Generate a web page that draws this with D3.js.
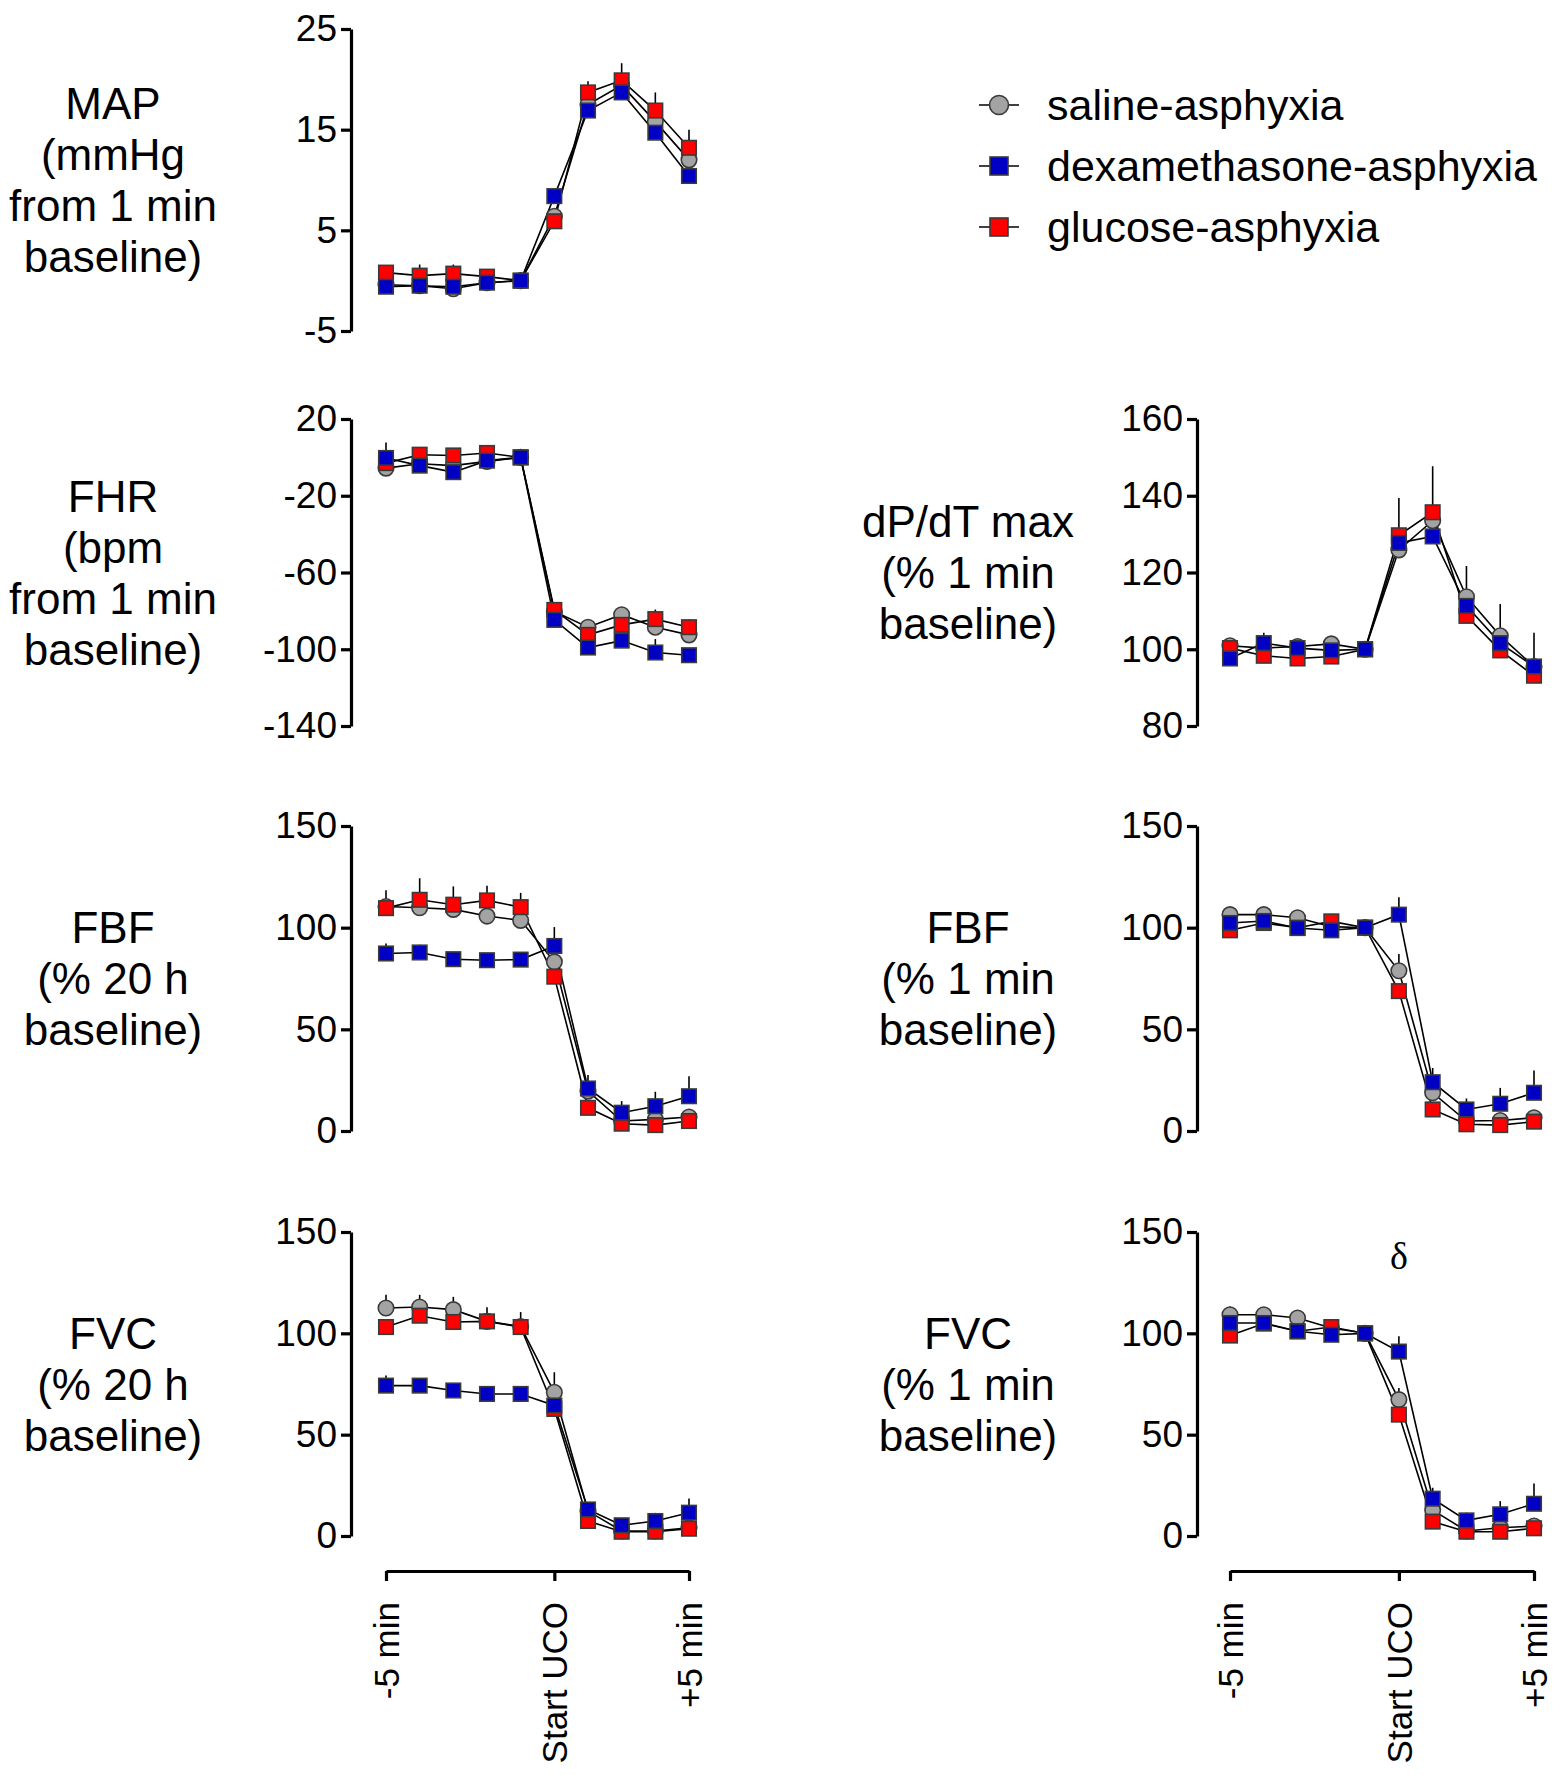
<!DOCTYPE html>
<html>
<head>
<meta charset="utf-8">
<script src="https://cdn.jsdelivr.net/npm/d3@7"></script>
<style>
  body { margin: 0; background: #fff; }
  svg text { font-family: "Liberation Sans", Arial, sans-serif; fill: #000; }
</style>
</head>
<body>
<svg id="chart" width="1567" height="1775"></svg>
<script>
// time points (10 samples, -5 min ... +5 min)
const timeIdx = [0, 1, 2, 3, 4, 5, 6, 7, 8, 9];
const xTickPos = [0, 5, 9];
const xTickLabels = ["-5 min", "Start UCO", "+5 min"];

const seriesNames = ["saline-asphyxia", "dexamethasone-asphyxia", "glucose-asphyxia"];

// MAP (mmHg from 1 min baseline)
const mapSaline   = [-0.4, -0.5, -0.8, -0.2, 0, 6.4, 17.5, 19.4, 15.8, 12.0];
const mapDex      = [-0.6, -0.5, -0.6, -0.2, 0, 8.4, 16.9, 18.7, 14.7, 10.4];
const mapGlucose  = [0.8, 0.5, 0.7, 0.4, 0, 5.9, 18.7, 19.9, 16.9, 13.2];
const mapSalineErr  = [0.3, 0.3, 0.3, 0.3, 0, 0.6, 0.6, 1.2, 1.0, 3.0];
const mapDexErr     = [0.2, 0.3, 0.2, 0.2, 0, 0.4, 0.5, 0.6, 0.6, 0.4];
const mapGlucoseErr = [0.6, 1.1, 0.9, 0.3, 0, 1.2, 1.1, 1.7, 1.8, 0.8];

// FHR (bpm from 1 min baseline)
const fhrSaline   = [-5.6, -3.3, -4.3, -2.1, 0, -80.3, -88.5, -82.0, -88.5, -92.5];
const fhrDex      = [-0.3, -4.3, -7.7, -1.7, 0, -84.7, -99.1, -95.5, -101.7, -103.1];
const fhrGlucose  = [-3.0, 1.4, 1.0, 2.3, 0, -79.5, -92.5, -87.3, -84.3, -88.5];
const fhrSalineErr  = [3, 3, 4, 3, 0, 3, 4, 3, 3, 4];
const fhrDexErr     = [8, 2, 2, 2, 0, 2, 2, 2, 7, 2];
const fhrGlucoseErr = [3, 2, 2, 2, 0, 4, 3, 3, 5, 4];

// dP/dT max (% 1 min baseline)
const dpSaline   = [100.9, 100.3, 100.7, 101.4, 100, 125.9, 133.5, 113.7, 103.5, 95.5];
const dpDex      = [97.6, 101.6, 100.3, 99.7, 100, 127.7, 129.4, 111.3, 101.6, 95.5];
const dpGlucose  = [100.3, 98.3, 97.6, 98.1, 100, 129.7, 135.7, 108.7, 99.7, 93.1];
const dpSalineErr  = [0.8, 0.8, 0.8, 1.3, 0, 2, 2, 8, 8.3, 1];
const dpDexErr     = [1, 2.7, 0.8, 0.8, 0, 2, 2, 2, 2, 8.8];
const dpGlucoseErr = [0.8, 0.8, 0.8, 0.8, 0, 9.7, 12, 2, 2, 1];

// FBF (% 20 h baseline)
const fbf20Saline   = [110.4, 109.8, 109.0, 105.7, 103.6, 83.2, 19.6, 4.9, 5.7, 6.9];
const fbf20Dex      = [87.3, 87.8, 84.5, 84.0, 84.3, 91.0, 20.9, 9.0, 12.2, 17.1];
const fbf20Glucose  = [109.6, 113.7, 111.3, 113.4, 110.1, 75.9, 11.4, 3.6, 2.9, 4.9];
const fbf20SalineErr  = [8, 4, 4, 3, 3, 4, 3, 1, 1, 1];
const fbf20DexErr     = [4.9, 3.8, 3.5, 1.5, 1.5, 9.3, 6.7, 5.7, 7.1, 9.8];
const fbf20GlucoseErr = [5, 10.6, 9, 7.2, 7, 3, 2, 1, 1, 1];

// FBF (% 1 min baseline)
const fbf1Saline   = [106.4, 106.4, 104.9, 100.5, 100, 78.8, 18.8, 4.9, 5.2, 6.5];
const fbf1Dex      = [102.3, 103.3, 99.8, 98.7, 100, 106.4, 24.0, 10.6, 13.4, 18.8];
const fbf1Glucose  = [98.7, 102.3, 100.0, 103.1, 100, 68.8, 10.6, 3.3, 2.9, 4.6];
const fbf1SalineErr  = [1.5, 1, 1, 1, 0, 8.2, 2, 1, 1, 1];
const fbf1DexErr     = [2, 2, 1, 1, 0, 8.6, 7, 5.4, 7.8, 11];
const fbf1GlucoseErr = [1, 1, 1, 1, 0, 2, 2, 1, 1, 1];

// FVC (% 20 h baseline)
const fvc20Saline   = [112.5, 113.0, 111.7, 105.9, 103.4, 70.9, 12.3, 2.5, 2.5, 4.1];
const fvc20Dex      = [74.2, 74.2, 71.8, 70.1, 70.1, 64.4, 13.1, 5.3, 7.4, 11.5];
const fvc20Glucose  = [103.1, 108.7, 105.6, 105.9, 103.1, 62.7, 7.4, 2.1, 2.1, 3.6];
const fvc20SalineErr  = [6.5, 6, 6.3, 3, 3, 9.9, 2, 1, 1, 1];
const fvc20DexErr     = [5, 3, 2, 1, 1, 2, 3, 2, 4, 7];
const fvc20GlucoseErr = [3, 3, 3, 7, 7.4, 3, 2, 1, 1, 1];

// FVC (% 1 min baseline)
const fvc1Saline   = [109.2, 109.2, 107.6, 102.6, 100, 67.3, 12.8, 2.5, 4.1, 4.9];
const fvc1Dex      = [105.1, 105.1, 101.0, 99.3, 100, 91.0, 18.4, 7.7, 10.7, 15.9];
const fvc1Glucose  = [98.9, 104.8, 101.0, 103.1, 100, 59.9, 7.1, 2.1, 2.1, 3.8];
const fvc1SalineErr  = [4, 3, 1, 1, 0, 5.7, 2, 1, 1, 1];
const fvc1DexErr     = [1.5, 1.5, 1, 1, 0, 7.5, 5.4, 3.8, 6.5, 10];
const fvc1GlucoseErr = [1, 1, 1, 1, 0, 2, 2, 1, 1, 1];

// styles
const seriesStyle = {
  "saline-asphyxia":        { shape: "circle", fill: "#a3a3a3" },
  "dexamethasone-asphyxia": { shape: "square", fill: "#0000c4" },
  "glucose-asphyxia":       { shape: "square", fill: "#ff0000" }
};
const drawOrder = ["saline-asphyxia", "glucose-asphyxia", "dexamethasone-asphyxia"];

const cols = [
  { axisX: 351, x0: 386, x1: 689, labelX: 113 },
  { axisX: 1197, x0: 1230, x1: 1534, labelX: 968 }
];

const panels = [
  { col: 0, top: 29, bottom: 331, domain: [-5, 25], ticks: [-5, 5, 15, 25],
    label: ["MAP", "(mmHg", "from 1 min", "baseline)"],
    vals: [mapSaline, mapDex, mapGlucose], errs: [mapSalineErr, mapDexErr, mapGlucoseErr] },
  { col: 0, top: 419, bottom: 726, domain: [-140, 20], ticks: [-140, -100, -60, -20, 20],
    label: ["FHR", "(bpm", "from 1 min", "baseline)"],
    vals: [fhrSaline, fhrDex, fhrGlucose], errs: [fhrSalineErr, fhrDexErr, fhrGlucoseErr] },
  { col: 1, top: 419, bottom: 726, domain: [80, 160], ticks: [80, 100, 120, 140, 160],
    label: ["dP/dT max", "(% 1 min", "baseline)"],
    vals: [dpSaline, dpDex, dpGlucose], errs: [dpSalineErr, dpDexErr, dpGlucoseErr] },
  { col: 0, top: 826, bottom: 1131, domain: [0, 150], ticks: [0, 50, 100, 150],
    label: ["FBF", "(% 20 h", "baseline)"],
    vals: [fbf20Saline, fbf20Dex, fbf20Glucose], errs: [fbf20SalineErr, fbf20DexErr, fbf20GlucoseErr] },
  { col: 1, top: 826, bottom: 1131, domain: [0, 150], ticks: [0, 50, 100, 150],
    label: ["FBF", "(% 1 min", "baseline)"],
    vals: [fbf1Saline, fbf1Dex, fbf1Glucose], errs: [fbf1SalineErr, fbf1DexErr, fbf1GlucoseErr] },
  { col: 0, top: 1232, bottom: 1536, domain: [0, 150], ticks: [0, 50, 100, 150],
    label: ["FVC", "(% 20 h", "baseline)"],
    vals: [fvc20Saline, fvc20Dex, fvc20Glucose], errs: [fvc20SalineErr, fvc20DexErr, fvc20GlucoseErr],
    xAxis: true },
  { col: 1, top: 1232, bottom: 1536, domain: [0, 150], ticks: [0, 50, 100, 150],
    label: ["FVC", "(% 1 min", "baseline)"],
    vals: [fvc1Saline, fvc1Dex, fvc1Glucose], errs: [fvc1SalineErr, fvc1DexErr, fvc1GlucoseErr],
    xAxis: true, mark: { idx: 5, value: 131.5, text: "\u03b4" } }
];

const svg = d3.select("#chart");
const xAxisY = 1571;

function drawMarker(g, shape, fill, cx, cy, size) {
  if (shape === "circle") {
    g.append("circle").attr("cx", cx).attr("cy", cy).attr("r", size / 2 + 0.5)
      .attr("fill", fill).attr("stroke", "#3a3a3a").attr("stroke-width", 1.6);
  } else {
    g.append("rect").attr("x", cx - size / 2).attr("y", cy - size / 2)
      .attr("width", size).attr("height", size)
      .attr("fill", fill).attr("stroke", "#3a3a3a").attr("stroke-width", 1.6);
  }
}

panels.forEach(p => {
  const c = cols[p.col];
  const x = d3.scaleLinear().domain([0, 9]).range([c.x0, c.x1]);
  const y = d3.scaleLinear().domain(p.domain).range([p.bottom, p.top]);
  const g = svg.append("g");

  // y axis (plain hyphen minus like the original)
  const yAxis = d3.axisLeft(y).tickValues(p.ticks).tickFormat(d => String(d))
    .tickSize(10).tickPadding(4).tickSizeOuter(0);
  const ya = g.append("g").attr("transform", `translate(${c.axisX},0)`).call(yAxis);
  ya.select(".domain").attr("stroke", "#000").attr("stroke-width", 3.2);
  ya.selectAll(".tick line").attr("stroke", "#000").attr("stroke-width", 3.2);
  ya.selectAll(".tick text").attr("font-size", 37).attr("font-family", "Liberation Sans, Arial, sans-serif");

  // y label
  const mid = (p.top + p.bottom) / 2;
  const lh = 51;
  const n = p.label.length;
  g.append("text").attr("text-anchor", "middle").attr("font-size", 44)
    .selectAll("tspan").data(p.label).join("tspan")
    .attr("x", c.labelX)
    .attr("y", (d, i) => mid + (i - (n - 1) / 2) * lh)
    .attr("dy", "0.36em")
    .text(d => d);

  // series
  const line = d3.line().x((d, i) => x(timeIdx[i])).y(d => y(d));
  const order = drawOrder.map(name => seriesNames.indexOf(name));

  order.forEach(si => {
    const vals = p.vals[si];
    const errs = p.errs[si];
    g.append("g").selectAll("line").data(vals).join("line")
      .attr("x1", (d, i) => x(timeIdx[i])).attr("x2", (d, i) => x(timeIdx[i]))
      .attr("y1", d => y(d)).attr("y2", (d, i) => y(d + errs[i]))
      .attr("stroke", "#000").attr("stroke-width", 1.6);
    g.append("path").datum(vals).attr("d", line)
      .attr("fill", "none").attr("stroke", "#000").attr("stroke-width", 1.6);
  });
  order.forEach(si => {
    const name = seriesNames[si];
    const st = seriesStyle[name];
    const mg = g.append("g");
    p.vals[si].forEach((v, i) => drawMarker(mg, st.shape, st.fill, x(timeIdx[i]), y(v), 14.5));
  });

  if (p.mark) {
    g.append("text").attr("x", x(p.mark.idx)).attr("y", y(p.mark.value))
      .attr("text-anchor", "middle").attr("font-size", 38)
      .style("font-family", "Liberation Serif, Times New Roman, serif")
      .text(p.mark.text);
  }

  // x axis
  if (p.xAxis) {
    const xAxis = d3.axisBottom(x).tickValues(xTickPos)
      .tickFormat((d, i) => xTickLabels[i]).tickSize(10).tickSizeOuter(0);
    const xa = g.append("g").attr("transform", `translate(0,${xAxisY})`).call(xAxis);
    xa.select(".domain").attr("stroke", "#000").attr("stroke-width", 3.2);
    xa.selectAll(".tick line").attr("stroke", "#000").attr("stroke-width", 3.2);
    xa.selectAll(".tick text")
      .attr("font-size", 35).attr("font-family", "Liberation Sans, Arial, sans-serif")
      .attr("text-anchor", "end")
      .attr("transform", "rotate(-90)")
      .attr("x", -31).attr("y", 0).attr("dy", "0.36em");
  }
});

// legend
const legend = svg.append("g");
const legRows = [105, 166, 227];
seriesNames.forEach((name, i) => {
  const st = seriesStyle[name];
  const cy = legRows[i];
  legend.append("line").attr("x1", 979).attr("x2", 1019).attr("y1", cy).attr("y2", cy)
    .attr("stroke", "#000").attr("stroke-width", 1.6);
  drawMarker(legend, st.shape, st.fill, 999, cy, 18);
  legend.append("text").attr("x", 1047).attr("y", cy).attr("dy", "0.36em")
    .attr("font-size", 43).text(name);
});
</script>
</body>
</html>
